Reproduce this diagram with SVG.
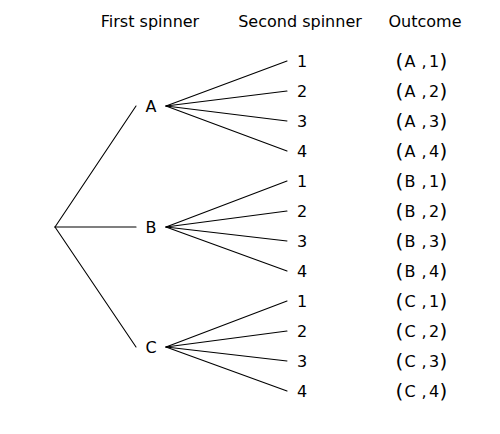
<svg xmlns="http://www.w3.org/2000/svg" width="500" height="434" viewBox="0 0 500 434">
<style>
text{font-family:"DejaVu Sans","Liberation Sans",sans-serif;font-size:16px;fill:#000}
.m{text-anchor:middle}
.p{font-size:20px}
#connectors line{stroke:#000;stroke-width:1.1;stroke-linecap:round}
</style>
<rect width="500" height="434" fill="#fff"/>
<g id="headers">
<text class="m" x="150" y="26.5">First spinner</text>
<text class="m" x="300" y="26.5">Second spinner</text>
<text class="m" x="425" y="26.5">Outcome</text>
</g>
<g id="connectors">
<line x1="55" y1="227" x2="136" y2="106"/>
<line x1="55" y1="227" x2="136" y2="227"/>
<line x1="55" y1="227" x2="136" y2="347"/>
<line x1="166" y1="106" x2="287" y2="61"/>
<line x1="166" y1="106" x2="287" y2="91"/>
<line x1="166" y1="106" x2="287" y2="121"/>
<line x1="166" y1="106" x2="287" y2="151"/>
<line x1="166" y1="227" x2="287" y2="181"/>
<line x1="166" y1="227" x2="287" y2="211"/>
<line x1="166" y1="227" x2="287" y2="241"/>
<line x1="166" y1="227" x2="287" y2="271"/>
<line x1="166" y1="347" x2="287" y2="301"/>
<line x1="166" y1="347" x2="287" y2="331"/>
<line x1="166" y1="347" x2="287" y2="361"/>
<line x1="166" y1="347" x2="287" y2="391"/>
</g>
<g id="first">
<text id="nA" class="m" x="151" y="112">A</text>
<text id="nB" class="m" x="151" y="233">B</text>
<text id="nC" class="m" x="151" y="353">C</text>
</g>
<g id="second">
<text id="nA1" class="m" x="302" y="67">1</text>
<text id="nA2" class="m" x="302" y="97">2</text>
<text id="nA3" class="m" x="302" y="127">3</text>
<text id="nA4" class="m" x="302" y="157">4</text>
<text id="nB1" class="m" x="302" y="187">1</text>
<text id="nB2" class="m" x="302" y="217">2</text>
<text id="nB3" class="m" x="302" y="247">3</text>
<text id="nB4" class="m" x="302" y="277">4</text>
<text id="nC1" class="m" x="302" y="307">1</text>
<text id="nC2" class="m" x="302" y="337">2</text>
<text id="nC3" class="m" x="302" y="367">3</text>
<text id="nC4" class="m" x="302" y="397">4</text>
</g>
<g id="outcomes" class="m">
<text id="oA1"><tspan class="p" x="399.5" y="67.5">(</tspan><tspan x="410" y="67">A</tspan><tspan x="424" y="67">,</tspan><tspan x="434" y="67">1</tspan><tspan class="p" x="443.5" y="67.5">)</tspan></text>
<text id="oA2"><tspan class="p" x="399.5" y="97.5">(</tspan><tspan x="410" y="97">A</tspan><tspan x="424" y="97">,</tspan><tspan x="434" y="97">2</tspan><tspan class="p" x="443.5" y="97.5">)</tspan></text>
<text id="oA3"><tspan class="p" x="399.5" y="127.5">(</tspan><tspan x="410" y="127">A</tspan><tspan x="424" y="127">,</tspan><tspan x="434" y="127">3</tspan><tspan class="p" x="443.5" y="127.5">)</tspan></text>
<text id="oA4"><tspan class="p" x="399.5" y="157.5">(</tspan><tspan x="410" y="157">A</tspan><tspan x="424" y="157">,</tspan><tspan x="434" y="157">4</tspan><tspan class="p" x="443.5" y="157.5">)</tspan></text>
<text id="oB1"><tspan class="p" x="399.5" y="187.5">(</tspan><tspan x="410" y="187">B</tspan><tspan x="424" y="187">,</tspan><tspan x="434" y="187">1</tspan><tspan class="p" x="443.5" y="187.5">)</tspan></text>
<text id="oB2"><tspan class="p" x="399.5" y="217.5">(</tspan><tspan x="410" y="217">B</tspan><tspan x="424" y="217">,</tspan><tspan x="434" y="217">2</tspan><tspan class="p" x="443.5" y="217.5">)</tspan></text>
<text id="oB3"><tspan class="p" x="399.5" y="247.5">(</tspan><tspan x="410" y="247">B</tspan><tspan x="424" y="247">,</tspan><tspan x="434" y="247">3</tspan><tspan class="p" x="443.5" y="247.5">)</tspan></text>
<text id="oB4"><tspan class="p" x="399.5" y="277.5">(</tspan><tspan x="410" y="277">B</tspan><tspan x="424" y="277">,</tspan><tspan x="434" y="277">4</tspan><tspan class="p" x="443.5" y="277.5">)</tspan></text>
<text id="oC1"><tspan class="p" x="399.5" y="307.5">(</tspan><tspan x="410" y="307">C</tspan><tspan x="424" y="307">,</tspan><tspan x="434" y="307">1</tspan><tspan class="p" x="443.5" y="307.5">)</tspan></text>
<text id="oC2"><tspan class="p" x="399.5" y="337.5">(</tspan><tspan x="410" y="337">C</tspan><tspan x="424" y="337">,</tspan><tspan x="434" y="337">2</tspan><tspan class="p" x="443.5" y="337.5">)</tspan></text>
<text id="oC3"><tspan class="p" x="399.5" y="367.5">(</tspan><tspan x="410" y="367">C</tspan><tspan x="424" y="367">,</tspan><tspan x="434" y="367">3</tspan><tspan class="p" x="443.5" y="367.5">)</tspan></text>
<text id="oC4"><tspan class="p" x="399.5" y="397.5">(</tspan><tspan x="410" y="397">C</tspan><tspan x="424" y="397">,</tspan><tspan x="434" y="397">4</tspan><tspan class="p" x="443.5" y="397.5">)</tspan></text>
</g>
</svg>
